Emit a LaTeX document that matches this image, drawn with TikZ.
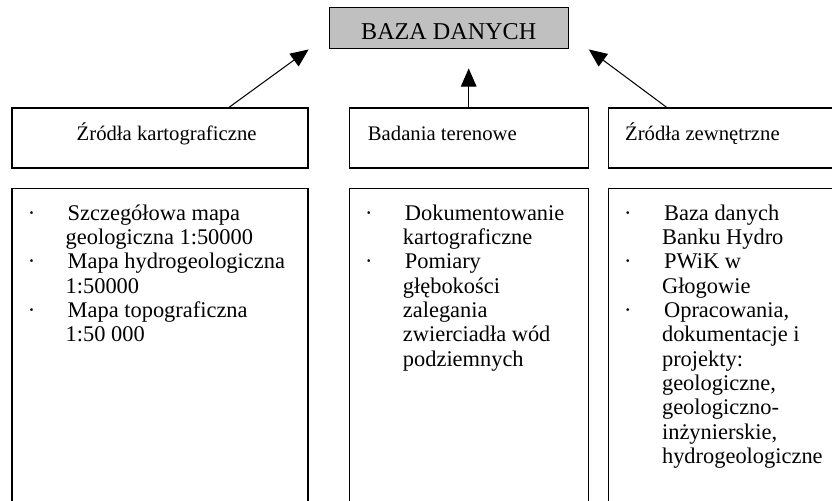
\documentclass[tikz,border=0pt]{standalone}
\usepackage{fontspec}
\setmainfont{Liberation Serif}
\usetikzlibrary{positioning, arrows.meta}
\definecolor{bazagray}{RGB}{192,192,192}
\tikzstyle{baza} = [rectangle, minimum width=138.6pt, minimum height=23.8pt, draw=black, fill=bazagray, line width=0.7pt, font=\fontsize{14}{16}\selectfont, text height=13pt, text depth=0pt]
\tikzstyle{zrodlo} = [rectangle, minimum height=34.8pt, draw=black, line width=0.7pt]
\tikzstyle{lista} = [rectangle, minimum height=199pt, draw=black, line width=0.7pt]
\tikzstyle{opis} = [anchor=base west, inner sep=0pt, font=\fontsize{12}{14}\selectfont]
\tikzstyle{punkty} = [anchor=north west, inner sep=0pt, align=left, font=\fontsize{13}{14.1}\selectfont]
\tikzstyle{arrow} = [line width=0.6pt, -{Triangle[length=10.5pt, width=9pt]}]
\newcommand{\pkt}{\makebox[23.2pt][l]{·}}
\newcommand{\dalej}{\hspace*{22pt}}
\newcommand{\pierwszy}{\rule{0pt}{12pt}}

\begin{document}
\begin{tikzpicture}
\useasboundingbox (0,0) rectangle (482.56pt,-290.58pt);
\clip (0,0) rectangle (482.56pt,-290.58pt);

% Nodes
\node (zrodla) [zrodlo, minimum width=171.7pt] at (92.8pt,-80.04pt) {};
\node (badania) [zrodlo, minimum width=138.6pt, right=23.2pt of zrodla] {};
\node (zewnetrzne) [zrodlo, minimum width=171.7pt, right=11pt of badania] {};
\node (baza) [baza, above=33.6pt of badania, xshift=-11.6pt] {BAZA DANYCH};

\node (zrodla_t) [opis, xshift=37.7pt, yshift=-1.2pt] at (zrodla.west) {Źródła kartograficzne};
\node (badania_t) [opis, xshift=11pt, yshift=-1.2pt] at (badania.west) {Badania terenowe};
\node (zewnetrzne_t) [opis, xshift=9.9pt, yshift=-1.2pt] at (zewnetrzne.west) {Źródła zewnętrzne};

\node (kart) [lista, minimum width=171.7pt, below=11pt of zrodla] {};
\node (teren) [lista, minimum width=138.6pt, below=11pt of badania] {};
\node (zewn) [lista, minimum width=171.7pt, below=11pt of zewnetrzne] {};

\node (kart_t) [punkty, xshift=9.3pt, yshift=-6.8pt] at (kart.north west) {\pierwszy\pkt Szczegółowa mapa\\
\dalej geologiczna 1:50000\\
\pkt Mapa hydrogeologiczna\\
\dalej 1:50000\\
\pkt Mapa topograficzna\\
\dalej 1:50 000};
\node (teren_t) [punkty, xshift=9.3pt, yshift=-6.8pt] at (teren.north west) {\pierwszy\pkt Dokumentowanie\\
\dalej kartograficzne\\
\pkt Pomiary\\
\dalej głębokości\\
\dalej zalegania\\
\dalej zwierciadła wód\\
\dalej podziemnych};
\node (zewn_t) [punkty, xshift=9.3pt, yshift=-6.8pt] at (zewn.north west) {\pierwszy\pkt Baza danych\\
\dalej Banku Hydro\\
\pkt PWiK w\\
\dalej Głogowie\\
\pkt Opracowania,\\
\dalej dokumentacje i\\
\dalej projekty:\\
\dalej geologiczne,\\
\dalej geologiczno-\\
\dalej inżynierskie,\\
\dalej hydrogeologiczne};

% Arrows
\draw [arrow] ([xshift=40pt]zrodla.north) -- ([xshift=-11.6pt]baza.south west);
\draw [arrow, shorten >=11pt] (badania.north) -- (badania.north |- baza.south);
\draw [arrow] ([xshift=34.2pt]zewnetrzne.north west) -- ([xshift=11.6pt]baza.south east);

\end{tikzpicture}
\end{document}
